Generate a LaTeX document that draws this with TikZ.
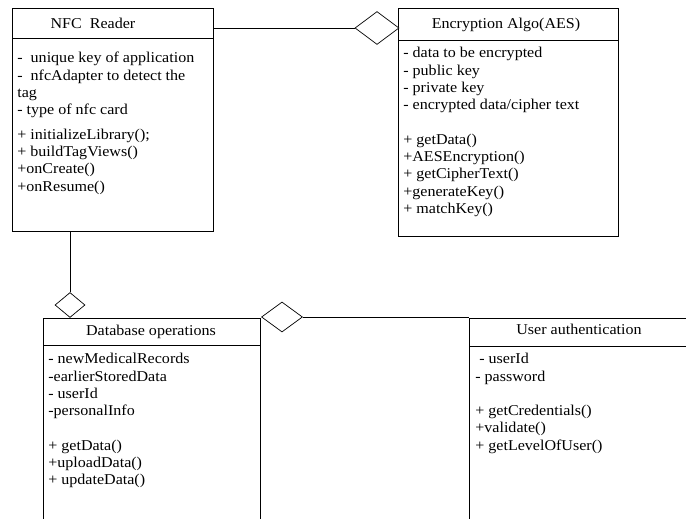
\documentclass[tikz,border=0pt]{standalone}
\usepackage{fontspec}
\setmainfont[FakeStretch=1.07]{Liberation Serif}
\usetikzlibrary{shapes.geometric}

\begin{document}
\begin{tikzpicture}[x=1pt, y=-1pt, line width=0.7pt,
        class/.style = {draw, rectangle,
            anchor=north west,
            inner sep=0pt},
        title/.style = {anchor=base, inner sep=0pt,
            font=\fontsize{15}{17.3}\selectfont},
        members/.style = {anchor=north west, align=left,
            inner sep=0pt,
            font=\fontsize{15}{17.3}\selectfont},
        agg/.style = {diamond, draw, fill=white,
            inner sep=0pt}]

    \useasboundingbox (0,0) rectangle (686,519);
    \clip (0,0) rectangle (686,519);

    % NFC Reader
    \node[class, minimum width=201pt, minimum height=223pt] (nfc) at (12,8) {};
    \draw ([yshift=-30pt]nfc.north west) -- ([yshift=-30pt]nfc.north east);
    \node[title] (nfctitle) at (93,29) {NFC~~Reader};
    \node[members] (nfcbody) at (17,52) {-~~unique key of application\\
        -~~nfcAdapter to detect the\\
        tag\\
        - type of nfc card\\[7pt]
        + initializeLibrary();\\
        + buildTagViews()\\
        +onCreate()\\
        +onResume()};

    % Encryption Algo(AES)
    \node[class, minimum width=220pt, minimum height=228pt] (enc) at (398,8) {};
    \draw ([yshift=-32pt]enc.north west) -- ([yshift=-32pt]enc.north east);
    \node[title] (enctitle) at (506,29) {Encryption Algo(AES)};
    \node[members] (encbody) at (403,47) {- data to be encrypted\\
        - public key\\
        - private key\\
        - encrypted data/cipher text\\[17.3pt]
        + getData()\\
        +AESEncryption()\\
        + getCipherText()\\
        +generateKey()\\
        + matchKey()};

    % Database operations
    \node[class, minimum width=217pt, minimum height=240pt] (db) at (43,318) {};
    \draw ([yshift=-27pt]db.north west) -- ([yshift=-27pt]db.north east);
    \node[title] (dbtitle) at (151,335) {Database operations};
    \node[members] (dbbody) at (48,353) {- newMedicalRecords\\
        -earlierStoredData\\
        - userId\\
        -personalInfo\\[17.3pt]
        + getData()\\
        +uploadData()\\
        + updateData()};

    % User authentication
    \node[class, minimum width=240pt, minimum height=240pt] (user) at (469,318) {};
    \draw ([yshift=-28pt]user.north west) -- ([yshift=-28pt]user.north east);
    \node[title] (usertitle) at (579,334) {User authentication};
    \node[members] (userbody) at (475,353) {\hspace{4pt}- userId\\
        - password\\[17.3pt]
        + getCredentials()\\
        +validate()\\
        + getLevelOfUser()};

    % Aggregation links
    \node[agg, minimum width=44pt, minimum height=33pt] (aggenc) at (377,28) {};
    \node[agg, minimum width=30pt, minimum height=25pt] (aggdb) at (70,305) {};
    \node[agg, minimum width=41pt, minimum height=30pt] (agguser) at (282,317) {};

    \draw (nfc.east |- aggenc.west) -- (aggenc.west);
    \draw (aggdb.north |- nfc.south) -- (aggdb.north);
    \draw (agguser.east) -- (agguser.east -| user.west);

\end{tikzpicture}
\end{document}
